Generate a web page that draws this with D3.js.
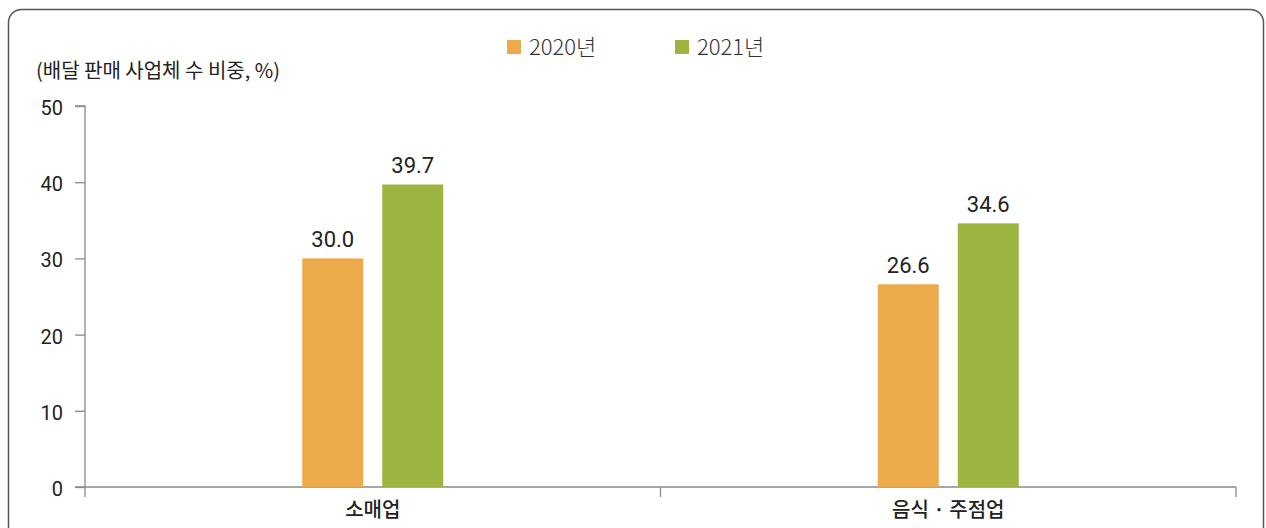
<!DOCTYPE html>
<html><head><meta charset="utf-8">
<script src="https://cdn.jsdelivr.net/npm/d3@7"></script>
<style>
html,body{margin:0;padding:0;background:#fff;}
svg{display:block;}
</style></head>
<body>
<svg id="chart" width="1266" height="528"></svg>
<script>
const categories = ["소매업", "음식 · 주점업"];
const seriesNames = ["2020년", "2021년"];
const values2020 = [30.0, 26.6];
const values2021 = [39.7, 34.6];
const yTicks = [0, 10, 20, 30, 40, 50];
const unitLabel = "(배달 판매 사업체 수 비중, %)";
const colors = ["#EDAA4B", "#9BB540"];

(function () {
const svg = d3.select("#chart");
const mLeft = 85, mRight = 1236, mTop = 106, mBottom = 487;

// frame
svg.append("rect").attr("x", 8.5).attr("y", 9.5).attr("width", 1255).attr("height", 530)
  .attr("rx", 13).attr("fill", "none").attr("stroke", "#555").attr("stroke-width", 1.5);

const x0 = d3.scaleBand().domain(categories).range([mLeft, mRight]).padding(0);
const x1 = d3.scaleBand().domain(seriesNames).range([-70.5, 70.5]).paddingInner(0.2375).paddingOuter(0);
const y = d3.scaleLinear().domain([0, 50]).range([mBottom, mTop]);

const numFont = "Roboto, 'DejaVu Sans', sans-serif";
const krFont = "'Noto Sans CJK KR', 'Noto Sans', sans-serif";

// y axis
const yAxis = svg.append("g").attr("transform", `translate(${mLeft},0)`)
  .call(d3.axisLeft(y).tickValues(yTicks).tickSize(10).tickPadding(12).tickFormat(d3.format("d")));
yAxis.select(".domain").attr("stroke", "#8a8a8a").attr("stroke-width", 1.3).attr("d", `M-10,${mTop}H0V${mBottom}`);
yAxis.selectAll(".tick line").attr("stroke", "#8a8a8a").attr("stroke-width", 1.3);
yAxis.selectAll(".tick text").attr("font-family", numFont).attr("font-size", 20)
  .attr("fill", "#222").attr("dy", "0.42em");

// x axis
const xAxis = svg.append("g").attr("transform", `translate(0,${mBottom})`)
  .call(d3.axisBottom(x0).tickSize(0).tickFormat(""));
xAxis.select(".domain").attr("stroke", "#8a8a8a").attr("stroke-width", 1.3).attr("d", `M${mLeft-10},0H${mRight}`);
const bounds = [mLeft, ...categories.slice(1).map(c => x0(c)), mRight];
svg.append("g").selectAll("line").data(bounds).join("line")
  .attr("x1", d => d).attr("x2", d => d).attr("y1", mBottom).attr("y2", mBottom + 10)
  .attr("stroke", "#8a8a8a").attr("stroke-width", 1.3);
svg.append("g").selectAll("text").data(categories).join("text")
  .attr("x", d => x0(d) + x0.bandwidth() / 2).attr("y", mBottom + 30)
  .attr("text-anchor", "middle").attr("font-family", krFont).attr("font-size", 20)
  .attr("font-weight", 500).attr("fill", "#222").text(d => d);

// bars
const rows = categories.map((c, i) => ({ cat: c, vals: [values2020[i], values2021[i]] }));
const g = svg.append("g");
rows.forEach(r => {
  const cx = x0(r.cat) + x0.bandwidth() / 2;
  r.vals.forEach((v, j) => {
    const bx = cx + x1(seriesNames[j]);
    g.append("rect").attr("x", bx).attr("y", y(v)).attr("width", x1.bandwidth())
      .attr("height", y(0) - y(v)).attr("fill", colors[j]);
    g.append("text").attr("x", bx + x1.bandwidth() / 2).attr("y", y(v) - 11)
      .attr("text-anchor", "middle").attr("font-family", numFont).attr("font-size", 22)
      .attr("fill", "#222").text(d3.format(".1f")(v));
  });
});

// unit label
svg.append("text").attr("x", 36).attr("y", 78).attr("font-family", krFont)
  .attr("font-size", 20).attr("fill", "#222").text(unitLabel);

// legend
const legendX = [507, 675];
const lg = svg.append("g");
seriesNames.forEach((s, i) => {
  lg.append("rect").attr("x", legendX[i]).attr("y", 40).attr("width", 14).attr("height", 14).attr("fill", colors[i]);
  lg.append("text").attr("x", legendX[i] + 22).attr("y", 55).attr("font-family", krFont)
    .attr("font-size", 22).attr("font-weight", 300).attr("fill", "#333").text(s);
});
})();
</script>
</body></html>
